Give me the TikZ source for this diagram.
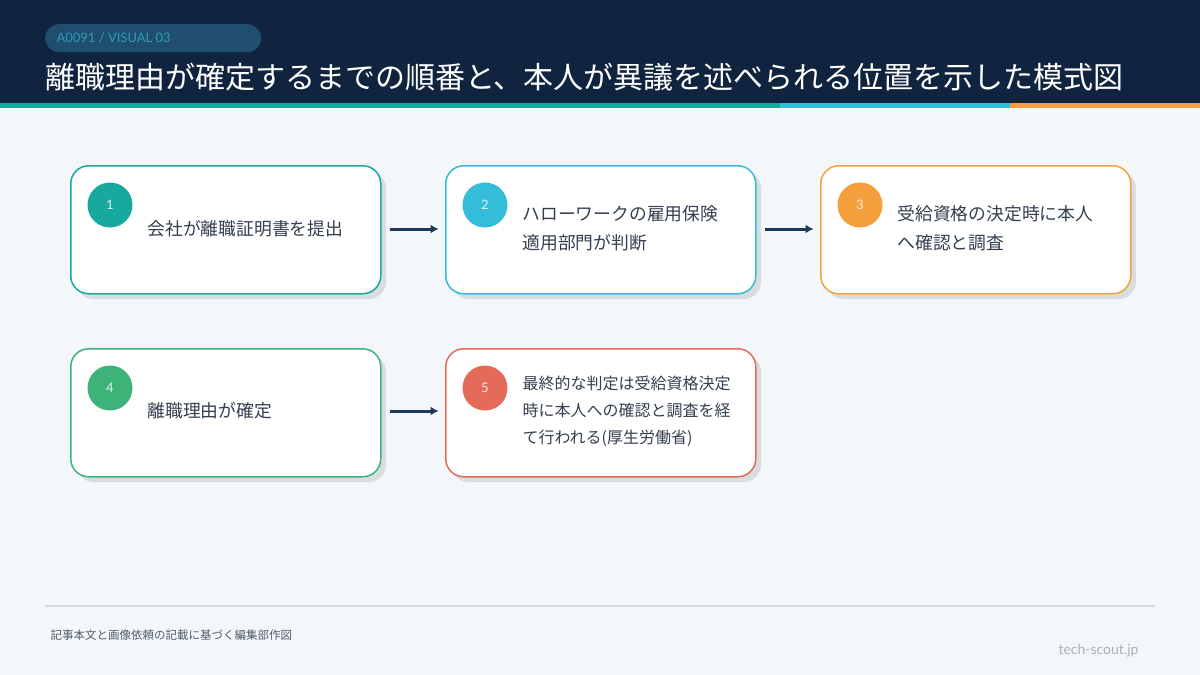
\documentclass[tikz,border=0pt]{standalone}
\usepackage{fontspec}
\setmainfont{Noto Sans CJK JP}
\newfontfamily\latinf{Lato}
\begin{document}
\definecolor{navy}{HTML}{10243F}
\definecolor{pill}{HTML}{1F4E6E}
\definecolor{teal}{HTML}{17A89E}
\definecolor{sky}{HTML}{34BDD8}
\definecolor{orng}{HTML}{F5A03C}
\definecolor{grn}{HTML}{3DB37A}
\definecolor{red}{HTML}{E46B5A}
\definecolor{bg}{HTML}{F3F7FA}
\definecolor{txt}{HTML}{34404F}
\definecolor{arr}{HTML}{1B3A5A}
\begin{tikzpicture}[x=1pt,y=-1pt,
 card/.style={draw=#1,line width=1.5pt,fill=white,rounded corners=18pt,minimum width=310pt,minimum height=128pt,anchor=north west,inner sep=0pt},
 shadow/.style={fill=black!4!bg!85!gray,rounded corners=18pt,minimum width=310pt,minimum height=128pt,anchor=north west,inner sep=0pt},
 num/.style={circle,fill=#1,minimum size=45pt,inner sep=0pt,text=white!85!#1,font=\latinf\fontsize{13}{13}\selectfont},
 lbl/.style={anchor=west,align=left,text=txt,font=\fontsize{17.8}{29}\selectfont},
 conn/.style={draw=arr,line width=3pt,-{Latex[length=8pt,width=9pt]}}]
\usetikzlibrary{arrows.meta}
\path[use as bounding box,fill=bg] (0,0) rectangle (1200,675);
\fill[navy] (0,0) rectangle (1200,103);
\fill[teal] (0,103) rectangle (780,108);
\fill[sky] (780,103) rectangle (1010,108);
\fill[orng] (1010,103) rectangle (1200,108);
\node[fill=pill,rounded corners=14pt,minimum width=216pt,minimum height=28pt,anchor=north west,inner sep=0pt] (pill) at (45,24) {};
\node[anchor=west,text=sky!70!pill,font=\latinf\fontsize{13}{13}\selectfont] (tag) at (53,38) {A0091 / VISUAL 03};
\node[anchor=west,text=white,font=\fontsize{30}{30}\selectfont,inner sep=0pt] (title) at (45,77) {離職理由が確定するまでの順番と、本人が異議を述べられる位置を示した模式図};
% shadows
\foreach \x/\y in {70/165,445/165,820/165,70/348,445/348}{\node[shadow] at (\x+6,\y+6) {};}
\node[card=teal] (c1) at (70,165) {};
\node[card=sky] (c2) at (445,165) {};
\node[card=orng] (c3) at (820,165) {};
\node[card=grn] (c4) at (70,348) {};
\node[card=red] (c5) at (445,348) {};
\node[num=teal] (n1) at (110,205) {1};
\node[num=sky] (n2) at (485,205) {2};
\node[num=orng] (n3) at (860,205) {3};
\node[num=grn] (n4) at (110,388) {4};
\node[num=red] (n5) at (485,388) {5};
\node[lbl] (t1) at (144,229) {会社が離職証明書を提出};
\node[lbl] (t2) at (519,228) {ハローワークの雇用保険\\適用部門が判断};
\node[lbl] (t3) at (894,228) {受給資格の決定時に本人\\へ確認と調査};
\node[lbl] (t4) at (144,411) {離職理由が確定};
\node[lbl,font=\fontsize{16}{27}\selectfont] (t5) at (519,411) {最終的な判定は受給資格決定\\時に本人への確認と調査を経\\て行われる(厚生労働省)};
\draw[conn] (c1.east|-t1) ++(8,0) coordinate (a1) -- ++(49,0) coordinate (b1);
\draw[conn] (c2.east|-t1) ++(8,0) coordinate (a2) -- ++(49,0) coordinate (b2);
\draw[conn] (c4.east|-t4) ++(8,0) coordinate (a4) -- ++(49,0) coordinate (b4);
\draw[draw=black!12!bg,line width=1.2pt] (45,606) coordinate (f1) -- (1155,606) coordinate (f2);
\node[anchor=west,text=txt!85!bg,font=\fontsize{11.5}{11.5}\selectfont] (src) at (47,635) {記事本文と画像依頼の記載に基づく編集部作図};
\node[anchor=east,text=gray!60!bg,font=\latinf\fontsize{14}{14}\selectfont] (site) at (1142,651) {tech-scout.jp};
\end{tikzpicture}
\end{document}
